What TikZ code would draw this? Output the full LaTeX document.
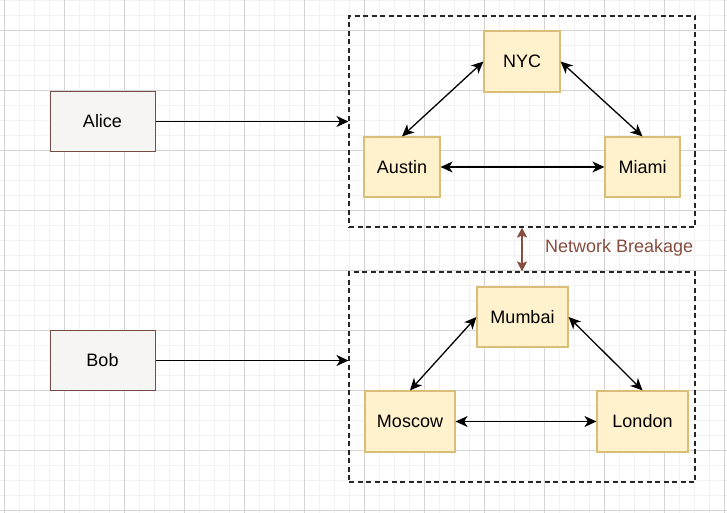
\documentclass[tikz,border=0pt]{standalone}
\usepackage{fontspec}
\setmainfont{Liberation Sans}
\usetikzlibrary{arrows.meta}
\definecolor{cityfill}{RGB}{255,242,204}
\definecolor{cityline}{RGB}{218,190,120}
\definecolor{userfill}{RGB}{246,245,243}
\definecolor{userline}{RGB}{115,78,70}
\definecolor{brk}{RGB}{135,77,63}
\definecolor{gridminor}{RGB}{242,242,242}
\definecolor{gridmajor}{RGB}{212,212,212}
\tikzset{
  txt/.style={font=\fontsize{18}{20}\selectfont},
  city/.style={txt, draw=cityline, fill=cityfill, line width=1.2pt, inner sep=0pt},
  user/.style={txt, draw=userline, fill=userfill, line width=1pt, inner sep=0pt, minimum width=105pt, minimum height=60pt},
  grp/.style={draw=black!85, line width=1.1pt, dash pattern=on 5pt off 3.5pt, inner sep=0pt},
  conn/.style={line width=1.3pt, -{Stealth[length=12pt,width=11pt,inset=3.5pt]}},
  biconn/.style={line width=1.3pt, {Stealth[length=12pt,width=11pt,inset=3.5pt]}-{Stealth[length=12pt,width=11pt,inset=3.5pt]}},
  brkconn/.style={brk, line width=1.8pt, {Stealth[length=10pt,width=10pt,inset=2pt]}-{Stealth[length=10pt,width=10pt,inset=2pt]}}
}
\begin{document}
\begin{tikzpicture}[x=1pt,y=-1pt]
\useasboundingbox (0,0) rectangle (727,513);
\fill[white] (0,0) rectangle (727,513);
\begin{scope}
\clip (0,0) rectangle (727,513);
\foreach \gx in {4,19,...,727} \draw[gridminor, line width=0.8pt] (\gx,0) -- (\gx,513);
\foreach \gy in {0,15,...,513} \draw[gridminor, line width=0.8pt] (0,\gy) -- (727,\gy);
\foreach \gx in {4,64,...,727} \draw[gridmajor, line width=0.9pt] (\gx,0) -- (\gx,513);
\foreach \gy in {30,90,...,513} \draw[gridmajor, line width=0.9pt] (0,\gy) -- (727,\gy);
\end{scope}

\node[grp, minimum width=346pt, minimum height=211pt] (topgrp) at (522,121.5) {};
\node[grp, minimum width=346pt, minimum height=210pt] (botgrp) at (522,377) {};

\node[user] (alice) at (102.5,121.5) {Alice};
\node[user] (bob) at (102.5,360.5) {Bob};

\node[city, minimum width=76pt, minimum height=61pt] (nyc) at (522,61.5) {NYC};
\node[city, minimum width=76pt, minimum height=60pt] (austin) at (402,167) {Austin};
\node[city, minimum width=75pt, minimum height=60pt] (miami) at (642.5,167) {Miami};

\node[city, minimum width=91pt, minimum height=60pt] (mumbai) at (522.5,317) {Mumbai};
\node[city, minimum width=90pt, minimum height=61pt] (moscow) at (410,421.5) {Moscow};
\node[city, minimum width=91pt, minimum height=61pt] (london) at (642.5,421.5) {London};

\draw[conn] (alice.east) -- (alice.east -| topgrp.west);
\draw[conn] (bob.east) -- (bob.east -| botgrp.west);

\draw[biconn] (nyc.west) -- (austin.north);
\draw[biconn] (nyc.east) -- (miami.north);
\draw[biconn] (austin.east) -- (miami.west);

\draw[biconn] (mumbai.west) -- (moscow.north);
\draw[biconn] (mumbai.east) -- (london.north);
\draw[biconn] (moscow.east) -- (london.west);

\draw[brkconn] (topgrp.south) -- (botgrp.north);
\node[txt, text=brk, anchor=west, inner sep=0pt] (brklabel) at (545,248) {Network Breakage};
\end{tikzpicture}
\end{document}
